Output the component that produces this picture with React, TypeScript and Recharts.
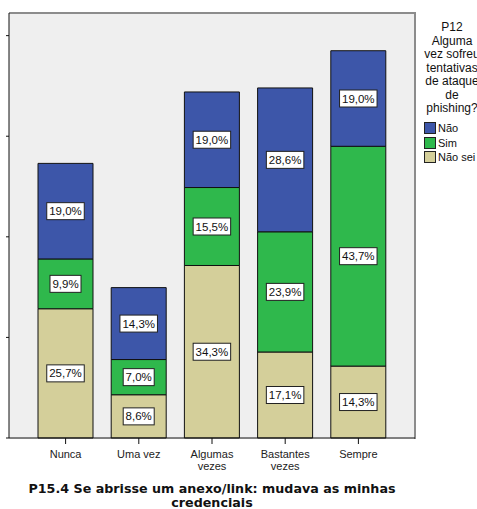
import { BarChart, Bar, XAxis, YAxis, LabelList } from 'recharts';

// answer categories for P15.4 (x axis)
const categories = ['Nunca', 'Uma vez', 'Algumas\nvezes', 'Bastantes\nvezes', 'Sempre'];

// column % per P12 answer, stacked bottom → top: Não sei, Sim, Não
const naoSei = [25.7, 8.6, 34.3, 17.1, 14.3];
const sim = [9.9, 7.0, 15.5, 23.9, 43.7];
const nao = [19.0, 14.3, 19.0, 28.6, 19.0];

const yTicks = [0, 20, 40, 60, 80];

const COLORS = { nao: '#3d56a9', sim: '#2fb84c', naoSei: '#d4cf9a' };
const FONT = '"Liberation Sans", Arial, sans-serif';

const legendTitle = ['P12', 'Alguma', 'vez sofreu', 'tentativas', 'de ataque', 'de', 'phishing?'];
const legendItems = [
  { name: 'Não', color: COLORS.nao },
  { name: 'Sim', color: COLORS.sim },
  { name: 'Não sei', color: COLORS.naoSei },
];

const data = categories.map((cat, i) => ({ cat, naoSei: naoSei[i], sim: sim[i], nao: nao[i] }));

const fmt = (v: number) => v.toFixed(1).replace('.', ',') + '%';

function PctLabel(props: any) {
  const { x, y, width, height, value } = props;
  const txt = fmt(Number(value));
  const w = txt.length * 6.5 + 5;
  const h = 17;
  const cx = x + width / 2;
  const cy = y + height / 2;
  return (
    <g>
      <rect x={cx - w / 2} y={cy - h / 2} width={w} height={h} fill="#fff" stroke="#222" strokeWidth={1} />
      <text x={cx} y={cy + 4} textAnchor="middle" fontSize={11.5} fontFamily={FONT} fill="#111">{txt}</text>
    </g>
  );
}

function CatTick(props: any) {
  const { x, y, payload } = props;
  const lines = String(payload.value).split('\n');
  return (
    <text x={x} y={y} textAnchor="middle" fontSize={11} fontFamily={FONT} fill="#222">
      {lines.map((l, i) => (
        <tspan key={i} x={x} dy={12}>{l}</tspan>
      ))}
    </text>
  );
}

export default function App() {
  return (
    <div style={{ position: 'absolute', left: 0, top: 0, width: 477, height: 509, background: '#fff' }}>
      {/* plot frame behind the svg */}
      <div style={{ position: 'absolute', left: 9, top: 12, width: 405, height: 425, background: '#efefef', borderTop: '2px solid #8c8c8c', borderRight: '2px solid #8c8c8c' }} />
      <div style={{ position: 'absolute', left: 0, top: 0 }}>
        <BarChart width={477} height={509} data={data} margin={{ top: 13, right: 62, bottom: 0, left: 0 }} barSize={55}>
          <XAxis
            dataKey="cat"
            height={71}
            padding={{ left: 20, right: 20 }}
            axisLine={{ stroke: '#111' }}
            tickLine={{ stroke: '#111' }}
            tickSize={6}
            tick={<CatTick />}
            interval={0}
          />
          <YAxis
            width={9}
            domain={[0, 84.5]}
            ticks={yTicks}
            tickFormatter={() => ''}
            tickSize={3}
            axisLine={{ stroke: '#111' }}
            tickLine={{ stroke: '#111' }}
          />
          <Bar dataKey="naoSei" stackId="a" fill={COLORS.naoSei} stroke="#111" strokeWidth={1} isAnimationActive={false}>
            <LabelList dataKey="naoSei" content={<PctLabel />} />
          </Bar>
          <Bar dataKey="sim" stackId="a" fill={COLORS.sim} stroke="#111" strokeWidth={1} isAnimationActive={false}>
            <LabelList dataKey="sim" content={<PctLabel />} />
          </Bar>
          <Bar dataKey="nao" stackId="a" fill={COLORS.nao} stroke="#111" strokeWidth={1} isAnimationActive={false}>
            <LabelList dataKey="nao" content={<PctLabel />} />
          </Bar>
        </BarChart>
      </div>

      <div style={{ position: 'absolute', left: 418, top: 21, width: 68, fontFamily: FONT, fontSize: 12, color: '#111', textAlign: 'center', lineHeight: '13.5px', whiteSpace: 'nowrap' }}>
        {legendTitle.map((t, i) => (
          <div key={i}>{t}</div>
        ))}
      </div>
      <div style={{ position: 'absolute', left: 424, top: 121, fontFamily: FONT, fontSize: 11, color: '#111' }}>
        {legendItems.map((it) => (
          <div key={it.name} style={{ display: 'flex', alignItems: 'center', height: 14.5 }}>
            <span style={{ display: 'inline-block', width: 10, height: 10, background: it.color, border: '1px solid #222', marginRight: 2 }} />
            <span style={{ whiteSpace: 'nowrap' }}>{it.name}</span>
          </div>
        ))}
      </div>

      <div style={{ position: 'absolute', left: 9, top: 482, width: 406, fontFamily: '"DejaVu Sans", sans-serif', fontWeight: 'bold', fontSize: 12.7, color: '#111', textAlign: 'center', lineHeight: '14px' }}>
        P15.4 Se abrisse um anexo/link: mudava as minhas
        <br />
        credenciais
      </div>
    </div>
  );
}
